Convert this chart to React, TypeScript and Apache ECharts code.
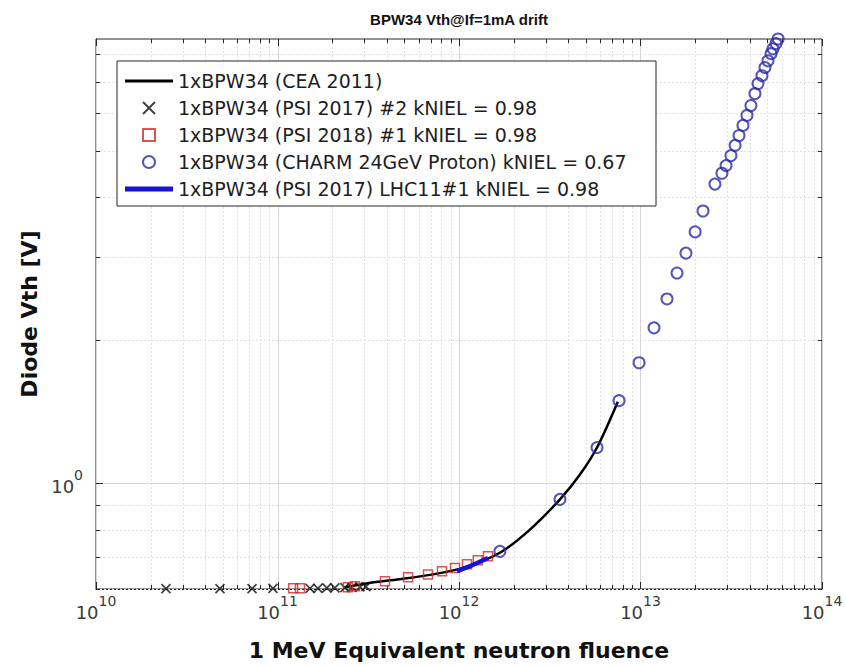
import React, { useEffect, useRef } from 'react';
import * as echarts from 'echarts';

// ---- texts ----
const titleText = 'BPW34 Vth@If=1mA drift';
const xAxisName = '1 MeV Equivalent neutron fluence';
const yAxisName = 'Diode Vth [V]';
const seriesNames = [
  '1xBPW34 (CEA 2011)',
  '1xBPW34 (PSI 2017) #2 kNIEL = 0.98',
  '1xBPW34 (PSI 2018) #1 kNIEL = 0.98',
  '1xBPW34 (CHARM 24GeV Proton) kNIEL = 0.67',
  '1xBPW34 (PSI 2017) LHC11#1 kNIEL = 0.98',
];

// ---- axis ranges / tick values ----
const xMin = 1e10;
const xMax = 1e14;
const yMin = 0.6;
const yMax = 8.6;
const xDecades = [1e10, 1e11, 1e12, 1e13, 1e14];
const minorMultipliers = [2, 3, 4, 5, 6, 7, 8, 9];
const yGridValues = [0.6, 0.7, 0.8, 0.9, 1, 2, 3, 4, 5, 6, 7, 8];

// ---- data (fluence, Vth) ----
const ceaCurve: [number, number][] = [
  [2.35e11, 0.605], [3.2e11, 0.618], [4.7e11, 0.629], [7.2e11, 0.644],
  [1.1e12, 0.668], [1.68e12, 0.715], [2.46e12, 0.8], [3.6e12, 0.926],
  [4.64e12, 1.044], [5.76e12, 1.19], [7.5e12, 1.486],
];
const psi2017Cross: [number, number][] = [
  [2.43e10, 0.601], [4.82e10, 0.601], [7.24e10, 0.601], [9.44e10, 0.602],
  [1.51e11, 0.602], [1.67e11, 0.602], [1.87e11, 0.603], [2.07e11, 0.603],
  [2.35e11, 0.604], [2.57e11, 0.605], [2.85e11, 0.606], [3.07e11, 0.607],
];
const psi2018Square: [number, number][] = [
  [1.22e11, 0.602], [1.33e11, 0.602], [2.44e11, 0.605], [2.67e11, 0.608],
  [3.91e11, 0.623], [5.24e11, 0.635], [6.75e11, 0.644], [8.06e11, 0.654],
  [9.51e11, 0.664], [1.107e12, 0.676], [1.27e12, 0.69], [1.445e12, 0.703],
];
const charmCircle: [number, number][] = [
  [1.68e12, 0.72], [3.6e12, 0.926], [5.76e12, 1.19], [7.62e12, 1.493],
  [9.82e12, 1.794], [1.187e13, 2.124], [1.4e13, 2.443], [1.589e13, 2.77],
  [1.78e13, 3.05], [2.0e13, 3.38], [2.21e13, 3.74], [2.57e13, 4.26],
  [2.81e13, 4.49], [2.96e13, 4.66], [3.15e13, 4.89], [3.32e13, 5.14],
  [3.49e13, 5.39], [3.67e13, 5.66], [3.86e13, 5.94], [4.06e13, 6.23],
  [4.27e13, 6.6], [4.44e13, 6.93], [4.67e13, 7.2], [4.85e13, 7.49],
  [5.04e13, 7.74], [5.24e13, 8.01], [5.37e13, 8.2], [5.58e13, 8.41],
  [5.73e13, 8.6],
];
const lhc11Line: [number, number][] = [
  [9.75e11, 0.654], [1.18e12, 0.673], [1.445e12, 0.697],
];

// ---- helpers ----
const isPow10 = (v: number) => {
  const l = Math.log10(v);
  return Math.abs(l - Math.round(l)) < 1e-6;
};
const powLabel = (v: number) =>
  isPow10(v) ? '{b|10}{s|' + Math.round(Math.log10(v)) + '}' : '';

const xGridValues: number[] = [];
xDecades.forEach((d, i) => {
  xGridValues.push(d);
  if (i < xDecades.length - 1) minorMultipliers.forEach((m) => xGridValues.push(m * d));
});

const AXIS_COLOR = '#262626';
const FONT = 'DejaVu Sans';
const LABEL_COLOR = '#3a3a3a';
const crossPath = 'path://M0,0L10,10M10,0L0,10';
const squarePath = 'path://M0,0H10V10H0Z';
const thinBarPath = 'path://M0,0H100V6H0Z';
const thickBarPath = 'path://M0,0H100V10H0Z';

const tickRich = {
  b: { fontFamily: FONT, fontSize: 18, color: LABEL_COLOR, lineHeight: 24, verticalAlign: 'bottom' },
  s: { fontFamily: FONT, fontSize: 14, color: LABEL_COLOR, lineHeight: 14, padding: [0, 0, 13, 0], verticalAlign: 'bottom' },
};

const gridLineStyle = (major: boolean) => ({
  stroke: major ? '#d4d4d4' : '#e0e0e0',
  lineWidth: 1,
  lineDash: major ? null : [2, 2],
});

const renderXGrid = (params: any, api: any) => {
  const v = api.value(0);
  const major = isPow10(v);
  const cs = params.coordSys;
  const px = Math.round(api.coord([v, 1])[0]) + 0.5;
  const top = cs.y;
  const bottom = cs.y + cs.height;
  const tl = major ? 7 : 4;
  return {
    type: 'group',
    children: [
      { type: 'line', shape: { x1: px, y1: top, x2: px, y2: bottom }, style: gridLineStyle(major) },
      { type: 'line', shape: { x1: px, y1: bottom, x2: px, y2: bottom - tl }, style: { stroke: AXIS_COLOR, lineWidth: 1 } },
      { type: 'line', shape: { x1: px, y1: top, x2: px, y2: top + tl }, style: { stroke: AXIS_COLOR, lineWidth: 1 } },
    ],
  };
};

const renderYGrid = (params: any, api: any) => {
  const v = api.value(1);
  const major = isPow10(v);
  const cs = params.coordSys;
  const py = Math.round(api.coord([1e12, v])[1]) + 0.5;
  const left = cs.x;
  const right = cs.x + cs.width;
  const tl = major ? 7 : 4;
  return {
    type: 'group',
    children: [
      { type: 'line', shape: { x1: left, y1: py, x2: right, y2: py }, style: gridLineStyle(major) },
      { type: 'line', shape: { x1: left, y1: py, x2: left + tl, y2: py }, style: { stroke: AXIS_COLOR, lineWidth: 1 } },
      { type: 'line', shape: { x1: right, y1: py, x2: right - tl, y2: py }, style: { stroke: AXIS_COLOR, lineWidth: 1 } },
    ],
  };
};

const option: any = {
  animation: false,
  backgroundColor: '#ffffff',
  title: {
    text: titleText,
    left: 454,
    top: 7,
    textAlign: 'center',
    textStyle: { fontFamily: 'Liberation Sans', fontWeight: 'bold', fontSize: 15, color: '#111' },
  },
  grid: {
    left: 96,
    top: 39,
    width: 726,
    height: 550,
    show: true,
    borderColor: AXIS_COLOR,
    borderWidth: 1,
    backgroundColor: '#fff',
    containLabel: false,
  },
  legend: {
    orient: 'vertical',
    left: 117,
    top: 61,
    backgroundColor: '#fff',
    borderColor: AXIS_COLOR,
    borderWidth: 1,
    borderRadius: 0,
    padding: [10, 8, 7, 8],
    itemWidth: 48,
    itemHeight: 12,
    itemGap: 7,
    selectedMode: false,
    textStyle: { fontFamily: FONT, fontSize: 19, color: '#1e1e1e', lineHeight: 20, width: 470 },
    data: [
      { name: seriesNames[0], icon: thinBarPath, itemStyle: { color: '#000', borderWidth: 0 } },
      { name: seriesNames[1], icon: crossPath },
      { name: seriesNames[2], icon: squarePath },
      { name: seriesNames[3], icon: 'circle' },
      { name: seriesNames[4], icon: thickBarPath, itemStyle: { color: '#1414d2', borderWidth: 0 } },
    ],
  },
  xAxis: {
    type: 'log',
    logBase: 10,
    min: xMin,
    max: xMax,
    name: xAxisName,
    nameLocation: 'middle',
    nameGap: 50,
    nameTextStyle: { fontFamily: FONT, fontWeight: 'bold', fontSize: 22, color: '#111' },
    axisLine: { show: true, onZero: false, lineStyle: { color: AXIS_COLOR, width: 1 } },
    axisTick: { show: false },
    splitLine: { show: false },
    axisLabel: {
      formatter: powLabel,
      rich: tickRich,
      margin: 8,
    },
  },
  yAxis: {
    type: 'log',
    logBase: 10,
    min: yMin,
    max: yMax,
    name: yAxisName,
    nameLocation: 'middle',
    nameGap: 55,
    nameTextStyle: { fontFamily: FONT, fontWeight: 'bold', fontSize: 22, color: '#111' },
    axisLine: { show: true, onZero: false, lineStyle: { color: AXIS_COLOR, width: 1 } },
    axisTick: { show: false },
    splitLine: { show: false },
    axisLabel: {
      formatter: powLabel,
      rich: tickRich,
      margin: 13,
    },
  },
  series: [
    {
      type: 'custom',
      name: 'xgrid',
      silent: true,
      z: 1,
      clip: false,
      renderItem: renderXGrid,
      data: xGridValues.map((v) => [v, 1]),
    },
    {
      type: 'custom',
      name: 'ygrid',
      silent: true,
      z: 1,
      clip: false,
      renderItem: renderYGrid,
      data: yGridValues.map((v) => [1e12, v]),
    },
    {
      type: 'line',
      name: seriesNames[0],
      data: ceaCurve,
      symbol: 'none',
      smooth: 0.3,
      z: 3,
      itemStyle: { color: '#000' },
      lineStyle: { color: '#000', width: 2.5 },
    },
    {
      type: 'scatter',
      name: seriesNames[1],
      data: psi2017Cross,
      symbol: crossPath,
      symbolSize: 9,
      z: 4,
      itemStyle: { color: 'transparent', borderColor: '#111', borderWidth: 1.7 },
    },
    {
      type: 'scatter',
      name: seriesNames[2],
      data: psi2018Square,
      symbol: 'rect',
      symbolSize: 9,
      z: 5,
      itemStyle: { color: 'transparent', borderColor: '#cc2a2a', borderWidth: 1.5 },
    },
    {
      type: 'scatter',
      name: seriesNames[3],
      data: charmCircle,
      symbol: 'circle',
      symbolSize: 11,
      z: 6,
      itemStyle: { color: 'transparent', borderColor: '#2b2baa', borderWidth: 2 },
    },
    {
      type: 'line',
      name: seriesNames[4],
      data: lhc11Line,
      symbol: 'none',
      z: 7,
      itemStyle: { color: '#1414d2' },
      lineStyle: { color: '#1414d2', width: 4.5 },
    },
  ],
};

export default function App() {
  const ref = useRef<HTMLDivElement>(null);
  useEffect(() => {
    if (!ref.current) return;
    const chart = echarts.init(ref.current, null, { renderer: 'svg' });
    chart.setOption(option);
    return () => chart.dispose();
  }, []);
  return (
    <div
      ref={ref}
      style={{ position: 'fixed', left: 0, top: 0, width: 846, height: 667, background: '#fff' }}
    />
  );
}
